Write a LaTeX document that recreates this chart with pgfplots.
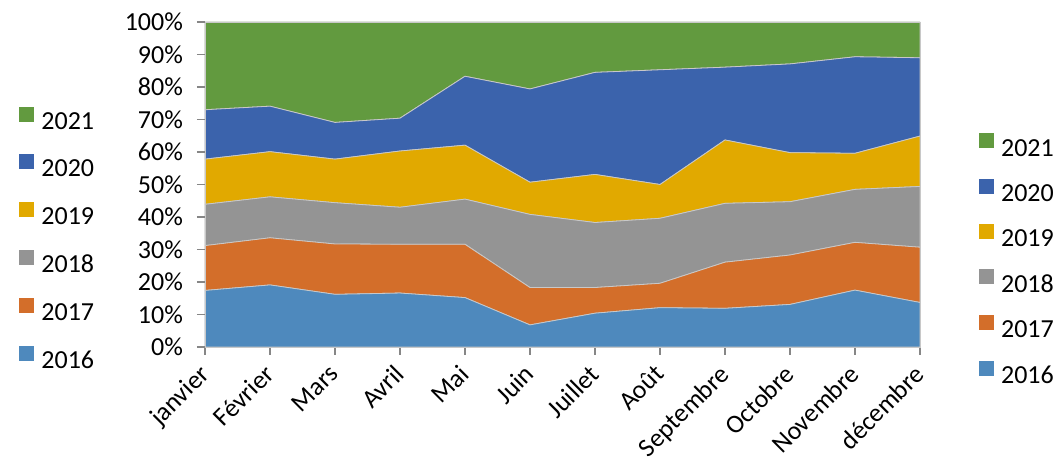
\documentclass[border=0pt]{standalone}
\usepackage{pgfplots}
\pgfplotsset{compat=1.18}
\usepackage{fontspec}
\setmainfont{Carlito}

\definecolor{c2016}{HTML}{4E89BD}
\definecolor{c2017}{HTML}{D36E2A}
\definecolor{c2018}{HTML}{949494}
\definecolor{c2019}{HTML}{E1A900}
\definecolor{c2020}{HTML}{3B63AC}
\definecolor{c2021}{HTML}{629A3F}
\definecolor{axgray}{HTML}{868686}
\definecolor{edge}{HTML}{C8C8C8}

\newcommand{\f}{\fontsize{13}{15}\selectfont}

\pgfplotsset{
  sq/.style={legend image code/.code={\fill[##1, draw=none] (0pt,0.35pt) rectangle (7.5pt,7.85pt);}},
}

\begin{document}
\begin{tikzpicture}
\useasboundingbox (-102.5pt,-59pt) rectangle (428pt,173.5pt);

% left legend (same content as the right one)
\begin{axis}[
  at={(0,0)}, anchor=south west,
  scale only axis, width=357.5pt, height=162.5pt,
  hide axis, xmin=0, xmax=1, ymin=0, ymax=1,
  legend style={at={(-0.2601,0.7412)}, anchor=north west, draw=none, fill=none,
    font=\f, inner sep=0pt, row sep=11.05pt, column sep=3.5pt,
    nodes={inner sep=0pt}},
  legend cell align=left,
]
\addlegendimage{sq, fill=c2021}\addlegendentry{2021}
\addlegendimage{sq, fill=c2020}\addlegendentry{2020}
\addlegendimage{sq, fill=c2019}\addlegendentry{2019}
\addlegendimage{sq, fill=c2018}\addlegendentry{2018}
\addlegendimage{sq, fill=c2017}\addlegendentry{2017}
\addlegendimage{sq, fill=c2016}\addlegendentry{2016}
\end{axis}

\begin{axis}[
  at={(0,0)}, anchor=south west,
  scale only axis, width=357.5pt, height=162.5pt,
  xmin=0, xmax=11, ymin=0, ymax=100,
  stack plots=y, area style,
  axis on top,
  axis line style={draw=edge},
  xtick={0,...,11},
  xticklabels={janvier,Février,Mars,Avril,Mai,Juin,Juillet,Août,Septembre,Octobre,Novembre,décembre},
  ytick={0,10,...,100},
  yticklabels={0\%,10\%,20\%,30\%,40\%,50\%,60\%,70\%,80\%,90\%,100\%},
  xtick pos=bottom, ytick pos=left,
  tick align=outside, major tick length=4pt,
  tick style={axgray, line width=0.6pt},
  ticklabel style={font=\f},
  xticklabel style={xshift=-3.5pt, yshift=-2.5pt, rotate=45, anchor=north east, inner sep=1pt},
  yticklabel style={xshift=-3.5pt},
  legend style={at={(1.0821,0.6582)}, anchor=north west, draw=none, fill=none,
    font=\f, inner sep=0pt, row sep=9.85pt, column sep=3.5pt,
    nodes={inner sep=0pt}},
  legend cell align=left,
  reverse legend,
]
% 2016
\addplot[sq, fill=c2016, draw=edge, line width=0.4pt] coordinates {
 (0,17.4) (1,19.1) (2,16.2) (3,16.6) (4,15.2) (5,6.8)
 (6,10.4) (7,12.1) (8,11.9) (9,13.1) (10,17.5) (11,13.7)} \closedcycle;
% 2017
\addplot[sq, fill=c2017, draw=edge, line width=0.4pt] coordinates {
 (0,13.8) (1,14.5) (2,15.5) (3,15.0) (4,16.4) (5,11.5)
 (6,7.9) (7,7.5) (8,14.2) (9,15.2) (10,14.7) (11,17.0)} \closedcycle;
% 2018
\addplot[sq, fill=c2018, draw=edge, line width=0.4pt] coordinates {
 (0,12.7) (1,12.6) (2,12.7) (3,11.4) (4,13.9) (5,22.5)
 (6,20.0) (7,20.0) (8,18.1) (9,16.4) (10,16.3) (11,18.7)} \closedcycle;
% 2019
\addplot[sq, fill=c2019, draw=edge, line width=0.4pt] coordinates {
 (0,13.9) (1,13.9) (2,13.4) (3,17.3) (4,16.6) (5,9.9)
 (6,14.8) (7,10.4) (8,19.5) (9,15.1) (10,11.1) (11,15.5)} \closedcycle;
% 2020
\addplot[sq, fill=c2020, draw=edge, line width=0.4pt] coordinates {
 (0,15.2) (1,14.0) (2,11.3) (3,10.1) (4,21.2) (5,28.7)
 (6,31.4) (7,35.3) (8,22.4) (9,27.3) (10,29.7) (11,24.1)} \closedcycle;
% 2021
\addplot[sq, fill=c2021, draw=edge, line width=0.4pt] coordinates {
 (0,27.0) (1,25.9) (2,30.9) (3,29.6) (4,16.7) (5,20.6)
 (6,15.5) (7,14.7) (8,13.9) (9,12.9) (10,10.7) (11,11.0)} \closedcycle;
\legend{2016,2017,2018,2019,2020,2021}

\draw[axgray, line width=0.8pt] (rel axis cs:0,1) -- (rel axis cs:0,0) -- (rel axis cs:1,0);
\end{axis}
\end{tikzpicture}
\end{document}
